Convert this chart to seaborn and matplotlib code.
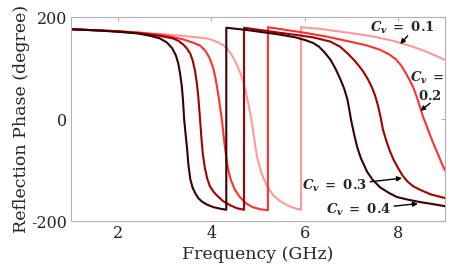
import matplotlib
matplotlib.use('Agg')
import matplotlib.pyplot as plt
import seaborn as sns
import pandas as pd

# Frequência (GHz) e fase de reflexão (graus)
freq_04 = [1.0, 1.5, 2.0, 2.4, 2.7, 2.9, 3.05, 3.16, 3.24, 3.29, 3.33, 3.37, 3.395, 3.42, 3.45, 3.48, 3.51, 3.55, 3.6, 3.66,
           3.72, 3.8, 3.91, 4.05, 4.2, 4.32,
           4.32, 4.8, 5.2, 5.5, 5.8, 6.0, 6.18, 6.3, 6.42, 6.55, 6.66, 6.76, 6.84, 6.91, 6.95, 6.99, 7.05, 7.12, 7.2, 7.33,
           7.45, 7.61, 7.8, 7.97, 8.2, 8.47, 8.75, 9.0]
fase_04 = [176, 174, 171, 168, 163, 158, 150, 139, 125, 110, 90, 63, 35, -2, -30, -57, -90, -118, -135, -146,
           -155, -162, -168, -173, -176, -178,
           179, 174, 169, 165, 160, 155, 149, 142, 131, 116, 98, 78, 60, 39, 19, -2, -28, -55, -77, -103,
           -119, -134, -145, -153, -158, -163, -167, -171]

freq_03 = [1.0, 1.5, 2.0, 2.5, 2.9, 3.18, 3.3, 3.4, 3.48, 3.55, 3.6, 3.65, 3.69, 3.72, 3.76, 3.79, 3.82, 3.86, 3.91, 3.97,
           4.05, 4.12, 4.25, 4.4, 4.55, 4.7,
           4.7, 5.0, 5.47, 5.8, 6.18, 6.54, 6.75, 6.9, 7.05, 7.15, 7.25, 7.35, 7.43, 7.5, 7.56, 7.62, 7.67, 7.74, 7.82, 7.9,
           8.0, 8.1, 8.2, 8.32, 8.47, 8.7, 9.0]
fase_03 = [176, 174, 172, 168, 163, 158, 153, 146, 138, 128, 115, 95, 70, 45, -2, -40, -70, -95, -116, -132,
           -143, -150, -161, -169, -175, -178,
           179, 175, 169, 165, 160, 152, 142, 130, 116, 105, 93, 78, 63, 47, 28, 4, -20, -42, -63, -80,
           -97, -112, -123, -132, -139, -148, -155]

freq_02 = [1.0, 1.5, 2.0, 2.5, 3.0, 3.4, 3.6, 3.76, 3.88, 3.97, 4.04, 4.09, 4.13, 4.17, 4.2, 4.23, 4.26, 4.29, 4.33, 4.37,
           4.42, 4.5, 4.61, 4.75, 4.89, 5.05, 5.21,
           5.21, 5.5, 6.0, 6.5, 6.9, 7.3, 7.6, 7.8, 7.95, 8.06, 8.16, 8.25, 8.32, 8.4, 8.47, 8.53, 8.6, 8.68, 8.76, 8.83,
           8.92, 9.0]
fase_02 = [176, 174, 172, 169, 164, 156, 150, 144, 133, 118, 100, 80, 58, 35, 15, -5, -30, -55, -82, -103,
           -120, -138, -153, -166, -173, -177, -179,
           180, 176, 169, 161, 153, 145, 136, 127, 117, 105, 90, 75, 62, 42, 22, 4, -12, -32, -50, -65,
           -85, -101]

freq_01 = [1.0, 1.5, 2.0, 2.5, 3.0, 3.5, 3.9, 4.05, 4.15, 4.25, 4.33, 4.42, 4.5, 4.57, 4.63, 4.69, 4.74, 4.79, 4.83, 4.86,
           4.9, 4.94, 4.98, 5.04, 5.11, 5.2, 5.33, 5.47, 5.6, 5.75, 5.92,
           5.92, 6.3, 6.7, 7.1, 7.5, 7.9, 8.3, 8.6, 8.8, 9.0]
fase_01 = [176, 174, 172, 169, 166, 162, 158, 154, 150, 145, 139, 128, 115, 101, 88, 70, 52, 31, 12, -2,
           -27, -52, -75, -96, -115, -133, -150, -161, -168, -174, -178,
           180, 177, 172, 167, 161, 153, 142, 132, 124, 116]

curvas = [
    ('0.1', freq_01, fase_01, '#ff9a9a'),
    ('0.2', freq_02, fase_02, '#ff3030'),
    ('0.3', freq_03, fase_03, '#a00000'),
    ('0.4', freq_04, fase_04, '#3a0000'),
]

sns.set_style('white')
plt.rcParams['font.family'] = ['DejaVu Serif']
plt.rcParams['mathtext.fontset'] = 'custom'
plt.rcParams['mathtext.it'] = 'DejaVu Serif:italic:bold'
plt.rcParams['mathtext.rm'] = 'DejaVu Serif:bold'

fig = plt.figure(figsize=(4.5, 2.72), dpi=100)
ax = fig.add_axes([0.158, 0.1875, 0.831, 0.75])

for nome, f, p, cor in curvas:
    df = pd.DataFrame({'Frequencia': f, 'Fase': p})
    sns.lineplot(data=df, x='Frequencia', y='Fase', sort=False, estimator=None,
                 color=cor, linewidth=1.5, ax=ax)

ax.set_xlim(1, 9)
ax.set_ylim(-200, 200)
ax.set_xticks([2, 4, 6, 8])
ax.set_xticklabels(['2', '4', '6', '8'])
ax.set_yticks([-200, 0, 200])
ax.set_yticklabels(['-200', '0', '200'])
ax.set_xlabel('Frequency (GHz)', fontsize=12.5, labelpad=3)
ax.set_ylabel('Reflection Phase (degree)', fontsize=12.5, labelpad=1)
ax.tick_params(direction='in', length=3, color='#b0b0b0', labelsize=11.5,
               top=True, right=True, pad=3)
for s in ax.spines.values():
    s.set_color('#b0b0b0')
    s.set_linewidth(0.8)

seta = dict(arrowstyle='-|>', color='black', lw=1, mutation_scale=7, shrinkA=0, shrinkB=0)
ax.text(8.08, 178, r'$C_v\;=\;0.1$', ha='center', va='center', fontsize=9.5)
ax.annotate('', xy=(8.04, 147), xytext=(8.2, 163), arrowprops=seta)
ax.text(9.0, 80, r'$C_v\;=$', ha='right', va='center', fontsize=9.5)
ax.text(8.68, 45, r'$0.2$', ha='center', va='center', fontsize=9.5)
ax.annotate('', xy=(8.47, 16), xytext=(8.68, 31), arrowprops=seta)
ax.annotate(r'$C_v\;=\;0.3$', xy=(8.08, -116), xytext=(7.33, -131),
            ha='right', va='center', fontsize=9.5, arrowprops=seta)
ax.annotate(r'$C_v\;=\;0.4$', xy=(8.42, -166), xytext=(7.84, -178),
            ha='right', va='center', fontsize=9.5, arrowprops=seta)

fig.savefig('out.png', dpi=100)
